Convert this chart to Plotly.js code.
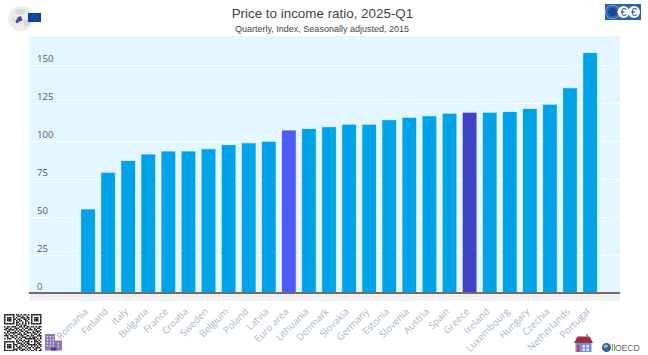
<!DOCTYPE html>
<html><head><meta charset="utf-8">
<script src="https://cdn.plot.ly/plotly-3.0.1.min.js"></script>
<style>html,body{margin:0;padding:0;background:#fff}#c{width:648px;height:355px}</style>
</head><body><div id="c"></div>
<script>
const categories=["Romania","Finland","Italy","Bulgaria","France","Croatia","Sweden","Belgium","Poland","Latvia","Euro area","Lithuania","Denmark","Slovakia","Germany","Estonia","Slovenia","Austria","Spain","Greece","Ireland","Luxembourg","Hungary","Czechia","Netherlands","Portugal"];
const values=[55.3,79.4,87.2,91.4,93.4,93.4,94.9,97.6,98.8,99.8,107.2,108.2,109.4,111,111,114,115.6,116.6,118.3,118.9,118.9,119.4,121.4,124.2,135,158.2];
const barColor="#00a2e8", euroColor="#4f5bfa", greeceColor="#3f43c6";
const tickVals=[0,25,50,75,100,125,150];
const colors=categories.map(c=>c==="Euro area"?euroColor:c==="Greece"?greeceColor:barColor);

const L=29,R=620,T=36,B=301;
const svg=s=>"data:image/svg+xml;charset=utf-8,"+encodeURIComponent(s);
const img=(s,x0,y0,x1,y1)=>({source:svg(`<svg xmlns="http://www.w3.org/2000/svg" viewBox="0 0 ${(x1-x0)*4} ${(y1-y0)*4}" width="${(x1-x0)*4}" height="${(y1-y0)*4}">${s}</svg>`),
  xref:"paper",yref:"paper",x:(x0-L)/(R-L),y:(B-y0)/(B-T),sizex:(x1-x0)/(R-L),sizey:(y1-y0)/(B-T),xanchor:"left",yanchor:"top",sizing:"stretch",layer:"above"});

const qrRows=["1111111011010110101111111","1000001001101001001000001","1011101010011101101011101","1011101101100110101011101","1011101010110011001011101","1000001011001010101000001","1111111010101010101111111","0000000011010110000000000","1011011100110101101101011","0110100111001011010010110","1101111010110100111011001","0011000101011011000101110","1010111110100101110110101","0101001001110110001011010","1110110110011001101100111","0010011010101110010111001","1011100101010011111110101","0000000010110100100011010","1111111011001011101011101","1000001001110101100010110","1011101110011010111111011","1011101010101101001010101","1011101001110010110101110","1000001110101101010011001","1111111010011010101101011"];
let qr="";qrRows.forEach((r,j)=>[...r].forEach((b,i)=>{if(b==="1")qr+=`<rect x="${i*6}" y="${j*6}" width="6" height="6" fill="#222"/>`;}));

const building=`<rect x="0" y="0" width="40" height="66" fill="#8b78b8"/><rect x="40" y="26" width="28" height="40" fill="#8b78b8"/>`+
 [6,18,30].map(x=>[8,20,32,44].map(y=>`<rect x="${x}" y="${y}" width="6" height="6" fill="#d9d2ea"/>`).join("")).join("")+
 `<rect x="24" y="54" width="22" height="12" fill="#4b3a80"/><rect x="50" y="36" width="6" height="6" fill="#d9d2ea"/><rect x="50" y="48" width="6" height="6" fill="#d9d2ea"/>`;
const house=`<rect x="6" y="34" width="64" height="40" fill="#6f8fe0"/><polygon points="0,36 14,10 62,10 76,36" fill="#a52a3a"/><rect x="48" y="0" width="7" height="12" fill="#6f8fe0"/>
 <rect x="12" y="44" width="10" height="30" fill="#c44"/><rect x="34" y="44" width="10" height="10" fill="#eef"/><rect x="50" y="44" width="10" height="10" fill="#eef"/><rect x="34" y="58" width="10" height="10" fill="#eef"/><rect x="50" y="58" width="10" height="10" fill="#eef"/>`;
const globe=`<circle cx="52" cy="54" r="51" fill="#ececec" stroke="#f4f4f4" stroke-width="2"/><path d="M28 22 Q50 8 72 26 Q60 42 44 36 Q30 36 28 22Z M62 60 Q84 56 92 70 Q78 92 66 84Z M16 50 Q28 52 30 70 Q20 70 16 50Z" fill="#d6d6d6"/><path d="M40 48 L52 44 L58 62 L46 66 L34 74 L30 66Z" fill="#4a4a96"/>`;
const flag=`<rect width="52" height="36" fill="#0f3f9e"/><circle cx="26" cy="18" r="10" fill="none" stroke="#c9b84a" stroke-width="2" stroke-dasharray="2 3"/>`;
const ecb=`<rect width="144" height="64" fill="#2a62ae"/><circle cx="30" cy="32" r="27" fill="#124a9c" stroke="#fff" stroke-width="2"/><circle cx="30" cy="32" r="20" fill="none" stroke="#cfe0f5" stroke-width="3" stroke-dasharray="3 4"/>
 <circle cx="74" cy="32" r="24" fill="#fff"/><circle cx="116" cy="32" r="24" fill="#fff"/><text x="74" y="47" font-family="Liberation Sans" font-size="42" text-anchor="middle" fill="#124a9c">€</text><text x="116" y="47" font-family="Liberation Sans" font-size="42" text-anchor="middle" fill="#124a9c">€</text>`;
const oecdGlobe=`<circle cx="18" cy="22" r="18" fill="#33618c"/><path d="M7 14 Q18 5 26 16 Q18 26 9 24Z" fill="#9db8cf"/><path d="M40 8 Q47 22 40 36 M48 8 Q55 22 48 36" stroke="#5a8a3a" stroke-width="3.5" fill="none"/>`;

const yMin=-5.26;
const data=[{type:"bar",x:categories,y:values,width:0.73,
  marker:{color:colors,line:{color:"rgba(255,255,255,0.65)",width:1}},hoverinfo:"x+y"}];
const layout={width:648,height:355,margin:{l:L,r:648-R,t:T,b:355-B,pad:0},
  paper_bgcolor:"#fff",plot_bgcolor:"#e4f6ff",showlegend:false,bargap:0.27,
  title:{text:"Price to income ratio, 2025-Q1",font:{family:"Liberation Sans, Arial",size:13.4,color:"#444"},x:0.4965,xanchor:"center",xref:"paper",y:0.9635,yanchor:"middle"},
  font:{family:"Open Sans, sans-serif"},
  xaxis:{type:"category",categoryorder:"array",categoryarray:categories,range:[-2.94,26.49],showgrid:false,zeroline:false,
    showline:false,ticks:"",ticklen:0,tickangle:-45,ticklabelstandoff:2,ticklabelshift:-3,tickfont:{family:"Open Sans, sans-serif",size:9.6,color:"#a6b6c6"},automargin:false},
  yaxis:{range:[yMin,169.1],tickvals:tickVals,ticktext:tickVals.map(String),showgrid:true,gridcolor:"#ffffff",gridwidth:1,zeroline:false,showline:false,ticks:"",
    ticklabelposition:"inside",ticklabelshift:-6,ticklabelstandoff:5,tickfont:{family:"Open Sans, sans-serif",size:9.6,color:"#5a5a5a"},automargin:false},
  annotations:[
   {text:"Quarterly, Index, Seasonally adjusted, 2015",xref:"paper",yref:"paper",x:(322-L)/(R-L),y:(B-29)/(B-T),xanchor:"center",yanchor:"middle",showarrow:false,font:{family:"Liberation Sans, Arial",size:9,color:"#444"}},
   {text:"OECD",xref:"paper",yref:"paper",x:(642-L)/(R-L),y:(B-347.5)/(B-T),xanchor:"right",yanchor:"middle",showarrow:false,font:{family:"Liberation Sans, Arial",size:8.5,color:"#5d6670"}}
  ],
  shapes:[
   {type:"rect",xref:"paper",yref:"y",x0:0,x1:1,y0:yMin,y1:0,fillcolor:"#f0f0f0",line:{width:0},layer:"above"},
   {type:"line",xref:"paper",yref:"y",x0:0,x1:1,y0:0,y1:0,line:{color:"#6e6e6e",width:2},layer:"above"}
  ],
  images:[img(globe,8,5,34,32),img(flag,28,13,41,22),img(ecb,605,4,641,20),img(`<rect width="150" height="150" fill="#fff"/>`+qr,4,314,42,351),
   img(building,45,334,62,351),img(house,574,334,593,352),img(oecdGlobe,602,342,616,353)]
};
Plotly.newPlot("c",data,layout,{displayModeBar:false,staticPlot:true});
</script></body></html>
